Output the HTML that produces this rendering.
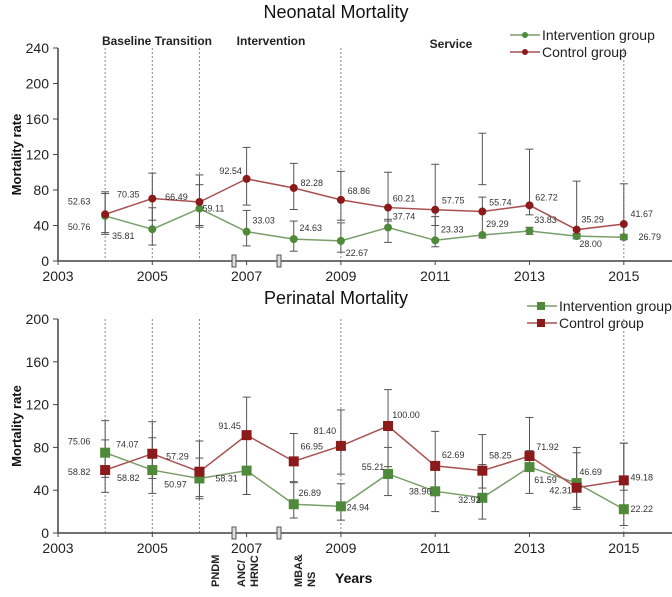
<!DOCTYPE html>
<html><head><meta charset="utf-8"><style>
html,body{margin:0;padding:0;background:#fff;}
svg{display:block;font-family:"Liberation Sans",sans-serif;}
</style></head><body>
<svg id="chart" width="672" height="597" viewBox="0 0 672 597" xmlns="http://www.w3.org/2000/svg"></svg>
<script>
const years = [2004,2005,2006,2007,2008,2009,2010,2011,2012,2013,2014,2015];
const xTicks = [2003,2005,2007,2009,2011,2013,2015];
const dashedYears = [2004,2005,2006,2009,2015];
const neoTicks = [0,40,80,120,160,200,240];
const periTicks = [0,40,80,120,160,200];
const neoInterv = [50.76,35.81,59.11,33.03,24.63,22.67,37.74,23.33,29.29,33.83,28.00,26.79];
const neoControl = [52.63,70.35,66.49,92.54,82.28,68.86,60.21,57.75,55.74,62.72,35.29,41.67];
const neoIntervHi = [76,60,86,57,45,43,47,50,72,38,31,30];
const neoIntervLo = [30,18,38,17,11,10,21,16,26,30,25,24];
const neoControlHi = [78,99,97,128,110,101,100,109,144,126,90,87];
const neoControlLo = [32,46,40,63,58,46,45,40,86,52,30,28];
const periInterv = [75.06,58.82,50.97,58.31,26.89,24.94,55.21,38.96,32.92,61.59,46.69,22.22];
const periControl = [58.82,74.07,57.29,91.45,66.95,81.40,100.00,62.69,58.25,71.92,42.31,49.18];
const periIntervHi = [87,89,70,62,47,46,80,64,64,77,75,84];
const periIntervLo = [52,51,32,36,14,12,35,20,13,37,22,7];
const periControlHi = [105,104,86,127,93,115,134,95,92,108,80,84];
const periControlLo = [38,37,34,36,48,55,62,40,42,62,24,40];

const svg = document.getElementById('chart');
const NS = 'http://www.w3.org/2000/svg';
function el(tag, attrs, parent, text){
  const e = document.createElementNS(NS, tag);
  for (const k in attrs) e.setAttribute(k, attrs[k]);
  if (text !== undefined) e.textContent = text;
  (parent||svg).appendChild(e);
  return e;
}
const x = yr => 58 + (yr - 2003) * 47.15;

function panel(cfg){
  const g = el('g', {});
  
  
  const y = v => cfg.y0 - (v / cfg.max) * (cfg.y0 - cfg.yTop);
  const t = el('text', {x:336, y:cfg.titleY, 'text-anchor':'middle', 'font-size':18, fill:'#111'}, g, cfg.title);
  
  
  dashedYears.forEach(yr => {
    const l = el('line', {x1:x(yr), x2:x(yr), y1:cfg.yTop, y2:cfg.y0, stroke:'#888', 'stroke-width':1, 'stroke-dasharray':'2,2'}, g);
    
    
  });
  const ya = el('line', {x1:58, x2:58, y1:cfg.yTop, y2:cfg.y0, stroke:'#444', 'stroke-width':1.5}, g);
  
  
  const xa = el('line', {x1:58, x2:672, y1:cfg.y0, y2:cfg.y0, stroke:'#444', 'stroke-width':1.5}, g);
  
  
  cfg.ticks.forEach(v => {
    el('line', {x1:53, x2:58, y1:y(v), y2:y(v), stroke:'#444'}, g);
    const tl = el('text', {x:49, y:y(v)+5, 'text-anchor':'end', 'font-size':14, fill:'#222'}, g, v);
    
    
  });
  xTicks.forEach(v => {
    el('line', {x1:x(v), x2:x(v), y1:cfg.y0, y2:cfg.y0+4, stroke:'#444'}, g);
    const tl = el('text', {x:x(v), y:cfg.y0+20, 'text-anchor':'middle', 'font-size':14, fill:'#222'}, g, v);
    
    
  });
  [234, 279].forEach(bx => {
    const r = el('rect', {x:bx-2, y:cfg.y0-6, width:4, height:12, fill:'#ddd', stroke:'#555', 'stroke-width':1}, g);
    
    
  });
  const yl = el('text', {x:0, y:0, transform:`translate(21,${(cfg.y0+cfg.yTop)/2}) rotate(-90)`, 'text-anchor':'middle', 'font-size':13, 'font-weight':'bold', fill:'#111'}, g, 'Mortality rate');
  
  

  cfg.series.forEach(s => {
    years.forEach((yr,i) => {
      const xx = x(yr);
      el('line', {x1:xx, x2:xx, y1:y(s.hi[i]), y2:y(s.lo[i]), stroke:'#555', 'stroke-width':1}, g);
      el('line', {x1:xx-4, x2:xx+4, y1:y(s.hi[i]), y2:y(s.hi[i]), stroke:'#555', 'stroke-width':1}, g);
      el('line', {x1:xx-4, x2:xx+4, y1:y(s.lo[i]), y2:y(s.lo[i]), stroke:'#555', 'stroke-width':1}, g);
    });
  });
  cfg.series.forEach(s => {
    const pts = years.map((yr,i) => `${x(yr)},${y(s.vals[i])}`).join(' ');
    const pl = el('polyline', {points:pts, fill:'none', stroke:s.line, 'stroke-width':1.5}, g);
    
    
    years.forEach((yr,i) => {
      const xx = x(yr), yy = y(s.vals[i]);
      let m;
      if (cfg.square) m = el('rect', {x:xx-5, y:yy-5, width:10, height:10, fill:s.mark}, g);
      else m = el('circle', {cx:xx, cy:yy, r:4, fill:s.mark}, g);
      
      
      const lab = el('text', {x:xx + s.dx[i], y:yy + s.dy[i], 'font-size':9, fill:'#333', 'text-anchor':'middle'}, g, s.vals[i].toFixed(2));
      
      
    });
  });
  cfg.series.forEach((s,k) => {
    const ly = cfg.legY + k*17;
    el('line', {x1:cfg.legX, x2:cfg.legX+30, y1:ly, y2:ly, stroke:s.line, 'stroke-width':1.5}, g);
    if (cfg.square) el('rect', {x:cfg.legX+10, y:ly-4, width:8, height:8, fill:s.mark}, g);
    else el('circle', {cx:cfg.legX+15, cy:ly, r:3, fill:s.mark}, g);
    const lt = el('text', {x:cfg.legX+32, y:ly+5, 'font-size':14, fill:'#222'}, g, s.label);
    
    
  });
  return y;
}

const G='#7a9e6a', GM='#4f8a3a', R='#a85050', RM='#8b1a1a';
panel({name:'neonatal-panel', title:'Neonatal Mortality', titleY:18, y0:261, yTop:48, max:240, ticks:neoTicks, square:false, legX:510, legY:35,
  series:[
    {key:'intervention', label:'Intervention group', vals:neoInterv, hi:neoIntervHi, lo:neoIntervLo, line:G, mark:GM,
     dx:[-26,-29,14,17,17,16,16,17,15,16,14,26], dy:[14,10,3,-8,-8,15,-8,-8,-8,-8,11,3]},
    {key:'control', label:'Control group', vals:neoControl, hi:neoControlHi, lo:neoControlLo, line:R, mark:RM,
     dx:[-26,-24,-23,-16,18,18,16,18,18,17,16,18], dy:[-10,-1,-2,-5,-2,-6,-6,-6,-6,-5,-7,-7]}
  ]});
panel({name:'perinatal-panel', title:'Perinatal Mortality', titleY:304, y0:533, yTop:319, max:200, ticks:periTicks, square:true, legX:527, legY:306,
  series:[
    {key:'intervention', label:'Intervention group', vals:periInterv, hi:periIntervHi, lo:periIntervLo, line:G, mark:GM,
     dx:[-26,-24,-24,-20,16,17,-15,-15,-13,16,14,18], dy:[-8,11,9,11,-8,4,-4,3,5,16,-8,3]},
    {key:'control', label:'Control group', vals:periControl, hi:periControlHi, lo:periControlLo, line:R, mark:RM,
     dx:[-26,-25,-22,-17,18,-16,18,18,18,18,-16,18], dy:[5,-6,-12,-6,-12,-12,-8,-8,-12,-6,6,0]}
  ]});

[['Baseline Transition',157,45],['Intervention',271,45],['Service',451,48]].forEach(p=>{
  const t = el('text', {x:p[1], y:p[2], 'text-anchor':'middle', 'font-size':12, 'font-weight':'bold', fill:'#222'}, svg, p[0]);
  
  
});
[['PNDM',219,587],['ANC/',245,587],['HRNC',258,587],['MBA&',302,587],['NS',315,587]].forEach(p=>{
  const t = el('text', {x:0, y:0, transform:`translate(${p[1]},${p[2]}) rotate(-90)`, 'text-anchor':'start', 'font-size':11, 'font-weight':'bold', fill:'#222'}, svg, p[0]);
  
  
});
const yt = el('text', {x:335, y:583, 'font-size':14, 'font-weight':'bold', fill:'#111'}, svg, 'Years');


</script>
</body></html>
